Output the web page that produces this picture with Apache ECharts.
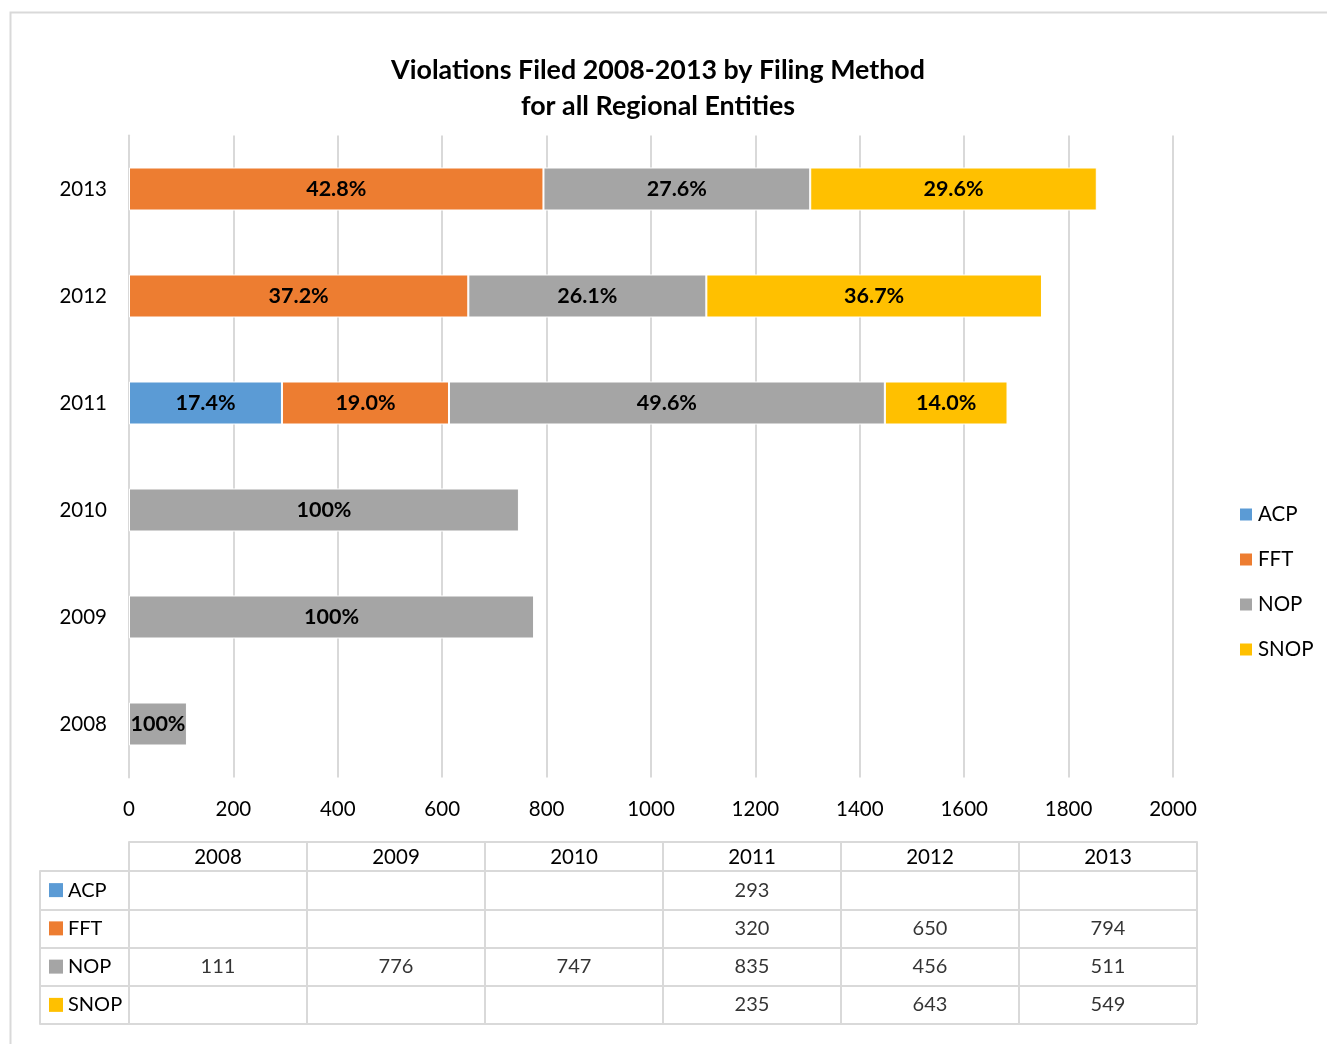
<!DOCTYPE html>
<html>
<head>
<meta charset="utf-8">
<script src="https://cdn.jsdelivr.net/npm/echarts@6/dist/echarts.min.js"></script>
<style>html,body{margin:0;padding:0;background:#fff;}#c{width:1327px;height:1044px;}</style>
</head>
<body>
<div id="c"></div>
<script>
const years = ['2008', '2009', '2010', '2011', '2012', '2013'];
const seriesNames = ['ACP', 'FFT', 'NOP', 'SNOP'];
const colors = ['#5b9bd5', '#ed7d31', '#a5a5a5', '#ffc000'];
const acp  = [null, null, null, 293, null, null];
const fft  = [null, null, null, 320, 650, 794];
const nop  = [111, 776, 747, 835, 456, 511];
const snop = [null, null, null, 235, 643, 549];
const acpPct  = ['', '', '', '17.4%', '', ''];
const fftPct  = ['', '', '', '19.0%', '37.2%', '42.8%'];
const nopPct  = ['100%', '100%', '100%', '49.6%', '26.1%', '27.6%'];
const snopPct = ['', '', '', '14.0%', '36.7%', '29.6%'];
const xTicks = [0, 200, 400, 600, 800, 1000, 1200, 1400, 1600, 1800, 2000];
const title = 'Violations Filed 2008-2013 by Filing Method\nfor all Regional Entities';

const values = [acp, fft, nop, snop];
const pcts = [acpPct, fftPct, nopPct, snopPct];
const FONT = 'Lato';
const GRID = '#d9d9d9';

const barSeries = seriesNames.map((n, i) => ({
  name: n, type: 'bar', stack: 'total', xAxisIndex: 0, yAxisIndex: 0,
  barWidth: 43,
  itemStyle: { color: colors[i], borderColor: '#ffffff', borderWidth: 1 },
  label: {
    show: true, position: 'inside', color: '#000', fontFamily: FONT,
    fontWeight: 'bold', fontSize: 21.5, padding: [3, 0, 0, 0],
    formatter: p => pcts[i][p.dataIndex]
  },
  data: values[i]
}));

const tableSeries = seriesNames.map((n, i) => ({
  name: 'tbl_' + n, type: 'scatter', xAxisIndex: 1, yAxisIndex: 1,
  symbolSize: 0, silent: true,
  label: { show: true, position: 'inside', color: '#000', fontFamily: FONT, fontSize: 20,
    formatter: p => String(p.value[2]) },
  data: values[i].map((v, j) => v == null ? null : [years[j], n, v]).filter(d => d)
}));

const rich = { t: { fontFamily: FONT, fontSize: 20, color: '#000', padding: [0, 0, 0, 5] } };
seriesNames.forEach((n, i) => { rich['s' + i] = { width: 14, height: 14, backgroundColor: colors[i] }; });

const option = {
  animation: false,
  backgroundColor: '#fff',
  title: {
    text: title, left: 653, top: 47, textAlign: 'center',
    textStyle: { fontFamily: FONT, fontWeight: 'bold', fontSize: 26.8, color: '#000', lineHeight: 36 }
  },
  legend: {
    data: seriesNames, orient: 'vertical', left: 1233, top: 499,
    itemWidth: 14, itemHeight: 14, itemGap: 24, icon: 'rect',
    textStyle: { fontFamily: FONT, fontSize: 20.5, color: '#000', padding: [0, 0, 0, 0] }
  },
  grid: [
    { left: 129, right: 154, top: 135.5, bottom: 266.5 },
    { left: 129, right: 130, top: 871, bottom: 20 }
  ],
  xAxis: [
    { type: 'value', gridIndex: 0, min: 0, max: 2000, interval: 200,
      axisLine: { show: false }, axisTick: { show: false },
      axisLabel: { fontFamily: FONT, fontSize: 20.5, color: '#000', margin: 21,
        formatter: v => String(v) },
      splitLine: { show: true, lineStyle: { color: GRID, width: 2 } } },
    { type: 'category', gridIndex: 1, data: years, position: 'top', offset: 29,
      boundaryGap: true,
      axisLine: { show: true, lineStyle: { color: GRID, width: 2 } },
      axisTick: { show: true, inside: true, length: 29, lineStyle: { color: GRID, width: 2 } },
      axisLabel: { fontFamily: FONT, fontSize: 20.5, color: '#000', margin: -15, verticalAlign: 'middle' },
      splitLine: { show: true, lineStyle: { color: GRID, width: 2 } } }
  ],
  yAxis: [
    { type: 'category', gridIndex: 0, data: years,
      axisLine: { show: true, lineStyle: { color: GRID, width: 2 } }, axisTick: { show: false },
      axisLabel: { fontFamily: FONT, fontSize: 20.5, color: '#000', margin: 22 } },
    { type: 'category', gridIndex: 1, data: seriesNames, inverse: true, offset: 89,
      boundaryGap: true,
      axisLine: { show: true, lineStyle: { color: GRID, width: 2 } },
      axisTick: { show: true, inside: true, length: 89, lineStyle: { color: GRID, width: 2 } },
      axisLabel: { margin: -9, align: 'left',
        formatter: v => '{s' + seriesNames.indexOf(v) + '|}{t|' + v + '}', rich: rich },
      splitLine: { show: true, lineStyle: { color: GRID, width: 2 } } }
  ],
  graphic: [
    { type: 'rect', shape: { x: 10.5, y: 12.5, width: 1400, height: 1100 },
      style: { fill: 'none', stroke: GRID, lineWidth: 2 }, silent: true, z: -1 }
  ],
  series: barSeries.concat(tableSeries)
};

const chart = echarts.init(document.getElementById('c'), null, { renderer: 'canvas' });
chart.setOption(option);
</script>
</body>
</html>
